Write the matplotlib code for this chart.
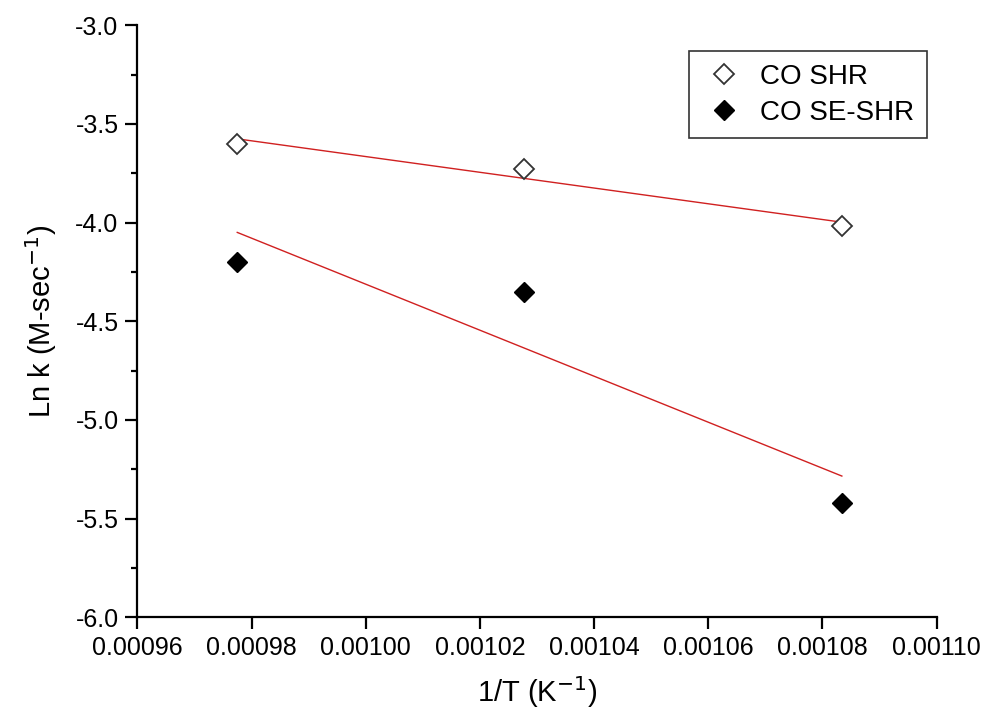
import numpy as np
import matplotlib
matplotlib.use("Agg")
import matplotlib.pyplot as plt
from matplotlib.ticker import MultipleLocator, FormatStrFormatter

plt.rcParams['font.family'] = ['Liberation Sans', 'DejaVu Sans']

# 1/T values (K^-1) and ln k readings
inv_T = [0.0009775, 0.0010277, 0.0010834]
shr = [-3.60, -3.73, -4.02]
se_shr = [-4.20, -4.35, -5.42]

fig = plt.figure(figsize=(9.88, 7.21), dpi=100)
ax = fig.add_axes([0.139, 0.144, 0.809, 0.821])

x = np.array(inv_T)
for y in (shr, se_shr):
    k, b = np.polyfit(x, y, 1)
    ax.plot(x[[0, -1]], k*x[[0, -1]] + b, color="#d02020", lw=1.0)

ax.plot(inv_T, shr, "D", ls="none", mfc="white", mec="#333333", mew=1.3, ms=10.5, label="CO SHR")
ax.plot(inv_T, se_shr, "D", ls="none", mfc="black", mec="black", ms=10.5, label="CO SE-SHR")

ax.set_xlim(0.00096, 0.00110)
ax.set_ylim(-6.0, -3.0)
ax.xaxis.set_major_locator(MultipleLocator(0.00002))
ax.xaxis.set_major_formatter(FormatStrFormatter("%.5f"))
ax.yaxis.set_major_locator(MultipleLocator(0.5))
ax.yaxis.set_minor_locator(MultipleLocator(0.25))
ax.yaxis.set_major_formatter(FormatStrFormatter("%.1f"))

for s in ("top", "right"):
    ax.spines[s].set_visible(False)
for s in ("left", "bottom"):
    ax.spines[s].set_linewidth(1.6)
ax.tick_params(which="major", direction="out", length=8.5, width=1.6, labelsize=18, pad=5)
ax.tick_params(which="minor", direction="out", length=4.5, width=1.6)

ax.set_xlabel("1/T (K$^{-1}$)", fontsize=21, labelpad=10)
ax.set_ylabel("Ln k (M-sec$^{-1}$)", fontsize=21, labelpad=12)

leg = ax.legend(loc="upper right", bbox_to_anchor=(0.9875, 0.956), borderaxespad=0,
                fontsize=20, numpoints=1, handlelength=1.6, handletextpad=0.5,
                fancybox=False, edgecolor="#333333", framealpha=1, borderpad=0.45,
                labelspacing=0.35)
leg.get_frame().set_linewidth(1.2)

fig.savefig("out.png", dpi=100)
